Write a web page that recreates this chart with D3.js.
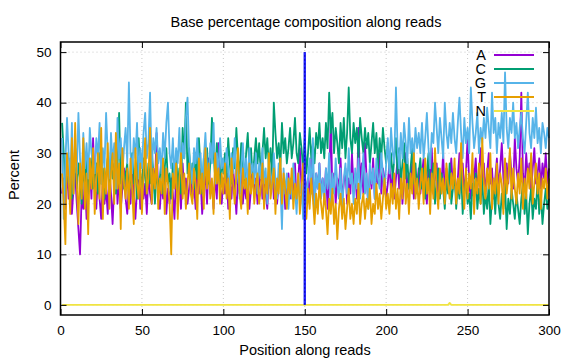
<!DOCTYPE html>
<html><head><meta charset="utf-8">
<script src="https://cdn.jsdelivr.net/npm/d3@7"></script>
<style>body{margin:0;background:#fff}svg{display:block}text{font-family:"Liberation Sans",Arial,sans-serif;}</style>
</head><body>
<svg id="chart" width="576" height="360"></svg>
<script>
const title = "Base percentage composition along reads";
const xLabel = "Position along reads";
const yLabel = "Percent";
const xTicks = [0,50,100,150,200,250,300];
const yTicks = [0,10,20,30,40,50];
const seriesNames = ["A","C","G","T","N"];
const seriesColors = ["#9400d3","#009e73","#56b4e9","#e69f00","#f0e442"];
const markerPos = 150;

const valsA = [
22,25,19,27,21,24,18,23,26,20,15,10,22,19,25,17,23,28,21,33,
24,19,26,21,17,25,20,23,18,27,22,16,24,29,20,25,19,23,27,21,
18,24,20,26,22,17,23,28,19,25,21,24,18,26,22,20,27,23,34,21,
19,24,21,27,18,23,20,25,22,17,26,21,24,19,28,22,25,20,23,26,
21,24,19,27,22,25,18,23,26,20,29,22,24,19,26,21,32,23,20,25,
22,26,19,24,21,27,23,18,25,22,28,20,24,21,26,19,23,27,22,25,
20,24,27,21,25,22,19,26,23,28,21,25,20,24,27,22,25,19,23,26,
21,25,22,28,20,24,31,23,19,26,22,25,21,29,24,20,26,23,28,22,
25,21,27,19,24,37,22,26,20,25,23,29,21,24,27,20,25,22,30,23,
26,21,35,24,28,22,32,25,20,27,23,29,21,26,24,30,22,27,25,21,
24,28,22,26,21,25,29,23,27,20,25,30,22,26,24,28,21,25,23,27,
22,26,29,23,20,27,24,31,22,25,28,21,26,24,30,22,27,23,25,29,
23,27,21,25,30,24,28,22,26,33,24,21,27,25,29,23,26,31,24,28,
22,26,30,24,27,21,25,29,23,27,32,25,22,28,24,30,26,23,33,27,
24,29,42,26,23,30,25,28,22,27,31,24,26,29,23,28,25,30,24,27];
const valsC = [
36,30,22,27,24,29,21,26,31,23,28,25,20,27,24,30,22,26,29,23,
25,28,22,30,24,27,21,26,29,23,31,25,28,22,27,38,24,29,23,26,
28,22,25,30,24,27,21,33,26,23,29,25,22,28,24,31,26,20,27,23,
25,29,22,27,31,24,26,21,28,25,30,23,27,22,35,29,40,26,31,24,
28,23,30,25,33,27,22,29,26,31,24,28,37,30,25,32,27,23,29,26,
30,25,33,28,24,31,27,35,29,26,32,28,24,30,34,27,31,25,29,33,
28,32,26,30,35,29,33,27,31,25,40,34,29,32,27,36,30,33,28,31,
35,29,32,37,30,28,34,31,27,33,26,30,35,29,32,28,34,31,36,30,
33,29,36,31,42,34,38,30,35,32,28,36,31,37,29,34,43,33,30,36,
32,35,29,37,33,30,35,31,34,28,32,36,30,34,27,33,29,35,31,28,
32,27,30,25,29,33,26,31,24,28,32,25,29,23,27,31,24,28,22,26,
29,23,27,21,26,30,22,25,28,20,24,27,21,26,23,19,25,22,28,20,
23,26,19,24,21,27,18,23,25,20,22,17,24,21,26,19,23,20,25,18,
22,19,24,16,21,23,18,25,20,17,22,19,24,15,21,18,23,20,17,22,
19,16,21,24,18,22,14,20,23,17,21,19,25,18,22,16,20,23,19,21];
const valsG = [
33,17,28,37,30,24,36,22,31,26,38,29,23,34,27,32,25,35,30,28,
26,33,29,36,24,31,27,38,30,25,34,28,32,23,37,29,33,26,31,35,
28,44,30,26,33,29,36,25,31,27,34,38,29,32,42,27,33,30,35,28,
31,26,34,29,36,40,30,27,33,25,31,28,35,26,32,29,37,41,30,27,
24,31,28,33,26,30,23,29,34,27,25,32,28,36,24,30,26,33,27,29,
25,31,27,22,30,26,33,24,28,21,27,32,25,29,23,31,26,28,24,30,
22,28,25,31,24,27,20,29,26,23,30,25,21,28,24,15,27,22,26,19,
25,21,28,23,18,26,22,24,17,27,20,25,29,22,33,19,26,23,28,21,
25,20,27,23,30,19,26,22,29,24,21,27,18,25,28,22,31,24,26,20,
27,23,29,21,25,30,22,26,19,28,24,27,21,29,25,23,30,26,22,28,
33,26,35,30,28,43,31,27,34,29,36,32,28,37,30,33,29,35,31,34,
30,36,29,33,38,31,27,34,32,40,35,30,37,33,29,40,34,31,36,32,
38,33,30,36,41,34,29,37,32,35,30,43,36,31,34,38,30,35,32,37,
33,39,35,31,42,34,37,30,36,33,38,32,46,35,31,37,34,40,33,36,
31,35,38,33,30,36,42,34,31,37,33,39,32,35,30,36,34,31,35,33];
const valsT = [
26,20,12,30,25,18,33,22,36,24,16,28,21,33,19,26,14,29,23,31,
18,25,30,21,35,17,27,22,32,19,26,30,20,34,23,28,15,31,24,21,
27,19,29,23,16,31,24,21,28,18,26,33,22,25,35,20,27,23,30,19,
25,22,29,18,27,24,20,10,26,23,28,17,25,30,21,26,19,24,28,22,
20,27,24,17,29,22,26,19,31,23,28,21,25,18,30,24,27,20,26,22,
28,21,25,17,29,24,20,26,31,22,19,27,23,25,18,28,22,26,20,24,
26,20,23,28,19,25,22,30,21,24,27,18,25,22,29,20,26,23,19,25,
22,27,19,24,21,26,18,23,28,20,17,23,19,25,21,16,22,18,24,20,
17,22,19,14,21,18,23,16,20,13,19,22,17,21,15,19,23,17,20,16,
21,18,24,16,20,22,17,21,19,23,16,20,18,24,19,22,17,21,25,19,
22,18,24,20,26,19,23,17,25,21,28,20,24,18,26,22,30,21,25,19,
24,27,20,29,22,25,18,26,21,31,23,19,27,22,25,20,28,24,21,26,
23,29,20,25,22,32,24,19,27,21,26,23,30,18,25,22,28,20,33,24,
21,27,23,30,19,25,22,28,20,26,24,18,29,22,25,31,21,27,23,20,
26,22,29,19,25,21,27,23,30,20,24,28,22,26,19,25,23,27,21,25];
const valsN = [
0,0,0,0,0,0,0,0,0,0,0,0,0,0,0,0,0,0,0,0,
0,0,0,0,0,0,0,0,0,0,0,0,0,0,0,0,0,0,0,0,
0,0,0,0,0,0,0,0,0,0,0,0,0,0,0,0,0,0,0,0,
0,0,0,0,0,0,0,0,0,0,0,0,0,0,0,0,0,0,0,0,
0,0,0,0,0,0,0,0,0,0,0,0,0,0,0,0,0,0,0,0,
0,0,0,0,0,0,0,0,0,0,0,0,0,0,0,0,0,0,0,0,
0,0,0,0,0,0,0,0,0,0,0,0,0,0,0,0,0,0,0,0,
0,0,0,0,0,0,0,0,0,0,0,0,0,0,0,0,0,0,0,0,
0,0,0,0,0,0,0,0,0,0,0,0,0,0,0,0,0,0,0,0,
0,0,0,0,0,0,0,0,0,0,0,0,0,0,0,0,0,0,0,0,
0,0,0,0,0,0,0,0,0,0,0,0,0,0,0,0,0,0,0,0,
0,0,0,0,0,0,0,0,0,0,0,0,0,0,0,0,0,0,0.4,0,
0,0,0,0,0,0,0,0,0,0,0,0,0,0,0,0,0,0,0,0,
0,0,0,0,0,0,0,0,0,0,0,0,0,0,0,0,0,0,0,0,
0,0,0,0,0,0,0,0,0,0,0,0,0,0,0,0,0,0,0,0];
const seriesVals = [valsA, valsC, valsG, valsT, valsN];

const svg = d3.select("#chart");
const L = 60.5, R = 549, T = 42, B = 315;
const x = d3.scaleLinear().domain([0,300]).range([L,R]);
const y = d3.scaleLinear().domain([-2,52]).range([B,T]);

// grid
const grid = svg.append("g").attr("stroke","#b0b0b0").attr("stroke-width",0.7).attr("stroke-dasharray","1,3");
xTicks.filter(v=>v>0&&v<300).forEach(v=>grid.append("line").attr("x1",x(v)).attr("x2",x(v)).attr("y1",T).attr("y2",B));
yTicks.forEach(v=>grid.append("line").attr("x1",L).attr("x2",R).attr("y1",y(v)).attr("y2",y(v)));

// series
const line = d3.line().x((d,i)=>x(i+1)).y(d=>y(d));
seriesVals.forEach((vals,k)=>{
  svg.append("path").datum(vals).attr("d",line).attr("fill","none")
    .attr("stroke",seriesColors[k]).attr("stroke-width",1.8).attr("stroke-linejoin","round");
});

// marker line
svg.append("line").attr("x1",x(markerPos)).attr("x2",x(markerPos)).attr("y1",y(0)).attr("y2",y(50))
  .attr("stroke","#2020ff").attr("stroke-width",2.4);
svg.append("line").attr("x1",x(markerPos)).attr("x2",x(markerPos)).attr("y1",y(0)).attr("y2",y(50))
  .attr("stroke","#0000a0").attr("stroke-width",0.8).attr("stroke-dasharray","2,2");

// axes
const axB = svg.append("g").attr("transform",`translate(0,${B})`)
  .call(d3.axisBottom(x).tickValues(xTicks).tickSizeInner(-6).tickSizeOuter(0).tickPadding(10));
const axT = svg.append("g").attr("transform",`translate(0,${T})`)
  .call(d3.axisTop(x).tickValues(xTicks).tickSizeInner(-6).tickSizeOuter(0).tickFormat(""));
const axL = svg.append("g").attr("transform",`translate(${L},0)`)
  .call(d3.axisLeft(y).tickValues(yTicks).tickSizeInner(-6).tickSizeOuter(0).tickPadding(9));
const axR = svg.append("g").attr("transform",`translate(${R},0)`)
  .call(d3.axisRight(y).tickValues(yTicks).tickSizeInner(-6).tickSizeOuter(0).tickFormat(""));
[axB,axT,axL,axR].forEach(g=>{g.select(".domain").remove(); g.selectAll("line").attr("stroke","#000").attr("stroke-width",1);
  g.selectAll("text").attr("font-size",13.5).attr("fill","#000").style("font-family","'Liberation Sans',Arial,sans-serif");});
svg.append("rect").attr("x",L).attr("y",T).attr("width",R-L).attr("height",B-T)
  .attr("fill","none").attr("stroke","#000").attr("stroke-width",1.5);

// legend
seriesNames.forEach((n,k)=>{
  const yy = 55 + k*14;
  svg.append("text").attr("x",486).attr("y",yy+5).attr("text-anchor","end").attr("font-size",14.5).text(n);
  svg.append("line").attr("x1",494).attr("x2",534).attr("y1",yy).attr("y2",yy).attr("stroke",seriesColors[k]).attr("stroke-width",1.8);
});

// labels
svg.append("text").attr("x",306).attr("y",27).attr("text-anchor","middle").attr("font-size",14.5).text(title);
svg.append("text").attr("x",305).attr("y",355).attr("text-anchor","middle").attr("font-size",14.5).text(xLabel);
svg.append("text").attr("transform","translate(19,175) rotate(-90)").attr("text-anchor","middle").attr("font-size",14.5).text(yLabel);
</script>
</body></html>
